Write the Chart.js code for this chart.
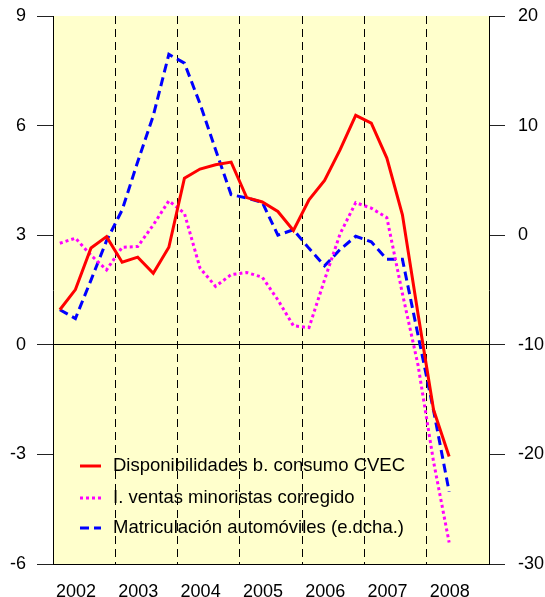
<!DOCTYPE html>
<html lang="es">
<head>
  <meta charset="UTF-8" />
  <title>Indicadores de consumo</title>
  <script src="https://cdn.jsdelivr.net/npm/chart.js"></script>
  <style>
    body {
      margin: 0;
      background-color: #ffffff;
    }
    #wrap {
      width: 545px;
      height: 597px;
    }
  </style>
</head>
<body>

<div id="wrap">
  <canvas id="chart" width="545" height="597"></canvas>
</div>

<script>
// Quarterly observations, 2002-I to 2008-II
const quarters = [
  '2002-I', '2002-II', '2002-III', '2002-IV',
  '2003-I', '2003-II', '2003-III', '2003-IV',
  '2004-I', '2004-II', '2004-III', '2004-IV',
  '2005-I', '2005-II', '2005-III', '2005-IV',
  '2006-I', '2006-II', '2006-III', '2006-IV',
  '2007-I', '2007-II', '2007-III', '2007-IV',
  '2008-I', '2008-II'
];
const years = ['2002', '2003', '2004', '2005', '2006', '2007', '2008'];

// left axis
const disponibilidades = [0.96, 1.51, 2.65, 2.96, 2.26, 2.40, 1.96, 2.67, 4.56, 4.81, 4.93, 5.00, 4.03,
  3.91, 3.65, 3.13, 3.97, 4.50, 5.34, 6.28, 6.07, 5.11, 3.56, 0.85, -1.78, -3.06];
const ventasMinoristas = [2.78, 2.92, 2.45, 2.05, 2.67, 2.69, 3.28, 3.94, 3.60, 2.10, 1.60, 1.92, 1.98,
  1.85, 1.23, 0.52, 0.47, 1.78, 3.04, 3.89, 3.74, 3.48, 1.40, -0.55, -3.20, -5.41];
// right axis (e.dcha.)
const matriculacion = [-6.8, -7.6, -4.1, -0.5, 2.3, 6.7, 10.9, 16.5, 15.7, 12.0, 7.8, 3.7, 3.4,
  3.0, 0.0, 0.5, -1.2, -2.8, -1.3, -0.1, -0.6, -2.2, -2.2, -9.1, -16.0, -23.4];

const leftTicks = [-6, -3, 0, 3, 6, 9];
const rightTicks = [-30, -20, -10, 0, 10, 20];

const FONT = '"Liberation Sans", Arial, sans-serif';
const romans = { I: 0, II: 1, III: 2, IV: 3 };

// quarter label -> position on the time axis (points sit inside their quarter)
function quarterPos(q) {
  const [y, r] = q.split('-');
  return Number(y) + romans[r] / 4 + 0.11;
}

function toPoints(values) {
  return values.map((v, i) => ({ x: quarterPos(quarters[i]), y: v }));
}

const firstYear = Number(years[0]);
const lastYear = Number(years[years.length - 1]) + 1;
const LABEL_SHIFT = 0.37; // year labels sit a little left of the year centre

// yellow plot background
const plotBackground = {
  id: 'plotBackground',
  beforeDraw(chart) {
    const { ctx, chartArea: a } = chart;
    ctx.save();
    ctx.fillStyle = '#ffffcc';
    ctx.fillRect(a.left, a.top, a.right - a.left, a.bottom - a.top);
    ctx.restore();
  }
};

// legend drawn inside the plot, lower left, no box
const innerLegend = {
  id: 'innerLegend',
  afterDraw(chart) {
    const { ctx, chartArea: a } = chart;
    const rows = [-98, -66, -36];
    ctx.save();
    ctx.font = '18.5px ' + FONT;
    ctx.textBaseline = 'middle';
    chart.data.datasets.forEach((ds, i) => {
      const y = a.bottom + rows[i];
      ctx.strokeStyle = ds.borderColor;
      ctx.lineWidth = ds.borderWidth;
      ctx.setLineDash(ds.borderDash || []);
      ctx.beginPath();
      ctx.moveTo(a.left + 27, y);
      ctx.lineTo(a.left + 48, y);
      ctx.stroke();
      ctx.setLineDash([]);
      ctx.fillStyle = '#000000';
      ctx.fillText(ds.label, a.left + 60, y);
    });
    ctx.restore();
  }
};

// vertical axes: fixed widths, no extra room for the end labels
function fitVertical(width) {
  return function (scale) {
    scale.width = width;
    scale.paddingTop = 0;
    scale.paddingBottom = 0;
  };
}

const ctx = document.getElementById('chart').getContext('2d');
new Chart(ctx, {
  type: 'line',
  data: {
    datasets: [
      {
        label: 'Disponibilidades b. consumo CVEC',
        data: toPoints(disponibilidades),
        yAxisID: 'y',
        borderColor: '#ff0000',
        borderWidth: 3,
        pointRadius: 0,
        tension: 0
      },
      {
        label: 'I. ventas minoristas corregido',
        data: toPoints(ventasMinoristas),
        yAxisID: 'y',
        borderColor: '#ff00ff',
        borderWidth: 3,
        borderDash: [3, 3],
        pointRadius: 0,
        tension: 0
      },
      {
        label: 'Matriculación automóviles (e.dcha.)',
        data: toPoints(matriculacion),
        yAxisID: 'y1',
        borderColor: '#0000ff',
        borderWidth: 3,
        borderDash: [9, 5],
        pointRadius: 0,
        tension: 0
      }
    ]
  },
  options: {
    responsive: false,
    animation: false,
    layout: { padding: { top: 16, left: 0, right: 0, bottom: 0 } },
    plugins: {
      legend: { display: false },
      tooltip: { enabled: false }
    },
    scales: {
      x: {
        type: 'linear',
        min: firstYear,
        max: lastYear,
        afterBuildTicks(scale) {
          const t = [];
          years.forEach(y => {
            t.push({ value: Number(y) });
            t.push({ value: Number(y) + LABEL_SHIFT });
          });
          t.push({ value: lastYear });
          scale.ticks = t;
        },
        afterFit(scale) {
          scale.height = 33;
          scale.paddingLeft = 0;
          scale.paddingRight = 0;
        },
        ticks: {
          autoSkip: false,
          maxRotation: 0,
          padding: 17,
          color: '#000000',
          font: { family: FONT, size: 18 },
          callback(value) {
            return Number.isInteger(value) ? '' : String(Math.floor(value));
          }
        },
        grid: {
          drawTicks: false,
          lineWidth: 1,
          color(c) {
            const v = c.tick ? c.tick.value : null;
            return (Number.isInteger(v) && v > firstYear && v < lastYear) ? '#000000' : 'rgba(0,0,0,0)';
          }
        },
        border: { display: true, color: '#000000', width: 1, dash: [8, 5] }
      },
      y: {
        position: 'left',
        min: leftTicks[0],
        max: leftTicks[leftTicks.length - 1],
        afterBuildTicks(scale) { scale.ticks = leftTicks.map(v => ({ value: v })); },
        afterFit: fitVertical(53),
        ticks: {
          padding: 11,
          color: '#000000',
          font: { family: FONT, size: 18 }
        },
        grid: {
          drawTicks: true,
          tickLength: 16,
          tickColor: '#222222',
          color(c) { return c.tick && c.tick.value === 0 ? '#000000' : 'rgba(0,0,0,0)'; }
        },
        border: { display: true, color: '#000000', width: 1 }
      },
      y1: {
        position: 'right',
        min: rightTicks[0],
        max: rightTicks[rightTicks.length - 1],
        afterBuildTicks(scale) { scale.ticks = rightTicks.map(v => ({ value: v })); },
        afterFit: fitVertical(56),
        ticks: {
          padding: 13,
          color: '#000000',
          font: { family: FONT, size: 18 }
        },
        grid: {
          drawOnChartArea: false,
          drawTicks: true,
          tickLength: 16,
          tickColor: '#222222'
        },
        border: { display: true, color: '#000000', width: 1 }
      }
    }
  },
  plugins: [plotBackground, innerLegend]
});
</script>

</body>
</html>
